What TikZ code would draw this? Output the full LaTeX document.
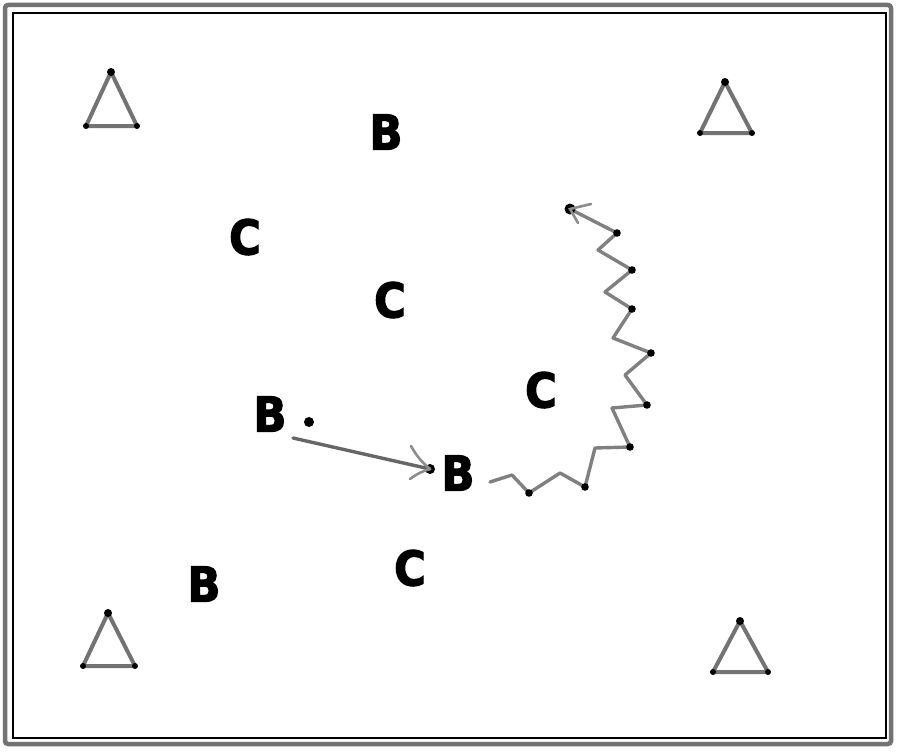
\documentclass[tikz,border=0pt]{standalone}
\usepackage{fontspec}
\newfontfamily\lblfont[FakeStretch=0.9,FakeBold=2.5]{DejaVu Sans}
\begin{document}
\begin{tikzpicture}[x=1pt,y=-1pt,
  lbl/.style={font=\lblfont\bfseries\fontsize{48}{48}\selectfont, inner sep=0pt, text=black},
  cone/.style={draw=black!55, line width=4pt, line join=round},
  vdot/.style={circle, fill=black, inner sep=0pt, minimum size=6pt},
  run/.style={draw=black!50, line width=3.4pt, line join=round, line cap=round},
  pass/.style={draw=black!60, line width=3.4pt, line cap=round},
  barb/.style={draw=black!45, line width=2.6pt, line cap=round}]
\useasboundingbox (0,0) rectangle (900,752);
\fill[white] (0,0) rectangle (900,752);
% border
\draw[draw=black!55, line width=4.5pt, rounded corners=3pt] (5,5) rectangle (891,744);
\draw[black, line width=1.8pt] (13,13) rectangle (886,738);
% cones
\foreach \n/\ax/\ay/\lx/\rx/\by in {tl/111/72/86/137/126, tr/725/82/700/752/133, bl/108/613/83/135/666, br/740/621/713/768/672}{
  \coordinate (\n a) at (\ax,\ay);
  \coordinate (\n l) at (\lx,\by);
  \coordinate (\n r) at (\rx,\by);
  \draw[cone] (\n a) -- (\n l) -- (\n r) -- cycle;
  \fill (\n a) circle (4pt);
  \fill (\n l) circle (3pt);
  \fill (\n r) circle (3pt);
}
% labels
\node[lbl] (b1) at (386,132) {B};
\node[lbl] (c1) at (245,237) {C};
\node[lbl] (c2) at (390,300) {C};
\node[lbl] (c3) at (541,390) {C};
\node[lbl] (b2) at (270,414) {B};
\node[lbl] (b3) at (458,473) {B};
\node[lbl] (b4) at (204,584) {B};
\node[lbl] (c4) at (410,568) {C};
% ball
\node[vdot, minimum size=10pt] (ball) at (309,422) {};
% pass
\coordinate (ps) at (293,438);
\node[vdot, minimum size=10pt] (pe) at (430,469) {};
\draw[pass] (ps) -- (pe.center);
\coordinate (pb1) at (411,446);
\coordinate (pb2) at (410,479);
\draw[barb] (pb1) to[bend right=10] (pe.center);
\draw[barb] (pb2) to[bend left=10] (pe.center);
% dribble
\coordinate (d0) at (490,482);
\coordinate (d1) at (512,475);
\coordinate (d2) at (529,493);
\coordinate (d3) at (560,473);
\coordinate (d4) at (585,487);
\coordinate (d5) at (595,448);
\coordinate (d6) at (630,447);
\coordinate (d7) at (612,408);
\coordinate (d8) at (647,405);
\coordinate (d9) at (625,375);
\coordinate (d10) at (651,353);
\coordinate (d11) at (613,338);
\coordinate (d12) at (632,309);
\coordinate (d13) at (605,292);
\coordinate (d14) at (632,270);
\coordinate (d15) at (598,250);
\coordinate (d16) at (617,233);
\coordinate (d17) at (570,209);
\draw[run] (d0) -- (d1) -- (d2) -- (d3) -- (d4) -- (d5) -- (d6) -- (d7) -- (d8) -- (d9) -- (d10) -- (d11) -- (d12) -- (d13) -- (d14) -- (d15) -- (d16) -- (d17);
\foreach \p in {d2,d4,d6,d8,d10,d12,d14,d16}{\fill (\p) circle (3.8pt);}
\fill (d17) circle (5.5pt);
\coordinate (db1) at (591,204);
\coordinate (db2) at (578,223);
\draw[barb] (db1) -- (d17) -- (db2);
\end{tikzpicture}
\end{document}
